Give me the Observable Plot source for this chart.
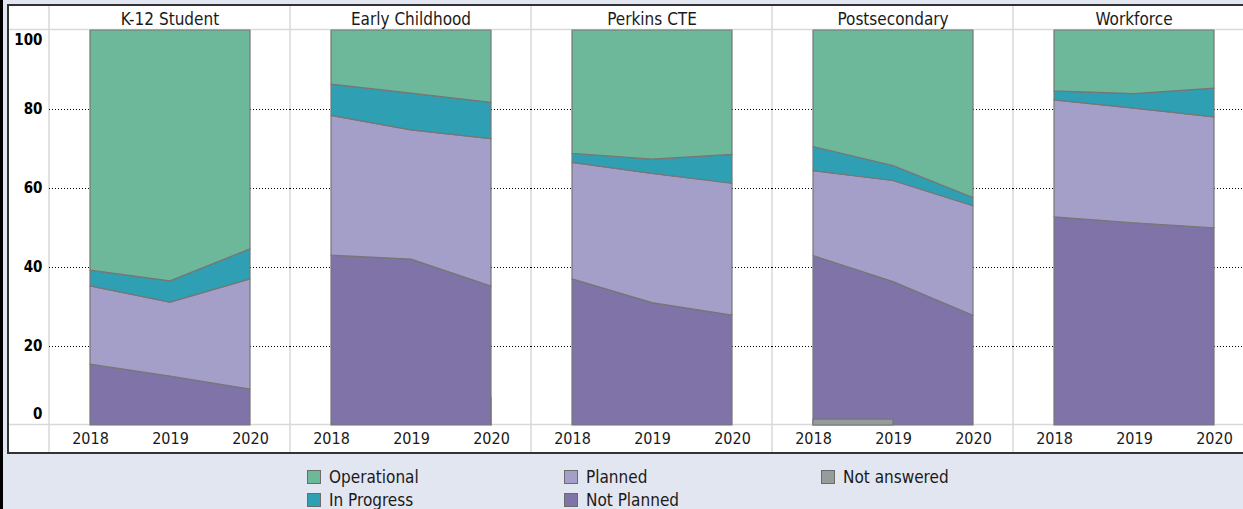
<!DOCTYPE html>
<html>
<head>
<meta charset="utf-8">
<script src="https://cdn.jsdelivr.net/npm/d3@7"></script>
<script src="https://cdn.jsdelivr.net/npm/@observablehq/plot@0.6"></script>
<style>
  html, body { margin: 0; padding: 0; }
  body { width: 1243px; height: 509px; overflow: hidden; background: #e2e6f1; position: relative;
         font-family: "DejaVu Sans Condensed", "DejaVu Sans", sans-serif; font-stretch: condensed; }
  #strip { position: absolute; left: 0; top: 0; width: 3px; height: 509px; background: #000; }
  #frame { position: absolute; left: 7px; top: 4px; width: 1260px; height: 446px;
           border: 2px solid #333; border-right: none; background: #fff; }
  #frame svg { display: block; }
  #legend { position: absolute; left: 307px; top: 465px; display: grid;
            grid-auto-flow: column; grid-template-rows: 23px 23px;
            grid-template-columns: 257px 257px 200px; font-size: 17px; color: #1a1a1a; }
  .item { display: flex; align-items: center; }
  .sw { width: 12px; height: 12px; border: 1px solid #6b6b6b; margin-right: 8px; box-sizing: content-box; }
</style>
</head>
<body>
<div id="strip"></div>
<div id="frame"></div>
<div id="legend"></div>
<script>
// ---- data ----
const facets = ["K-12 Student", "Early Childhood", "Perkins CTE", "Postsecondary", "Workforce"];
const years = [2018, 2019, 2020];
const yTicks = [0, 20, 40, 60, 80, 100];

// stack order (bottom -> top)
const seriesNames = ["Not answered", "Not Planned", "Planned", "In Progress", "Operational"];
const seriesColors = ["#959c9b", "#8073a8", "#a39fc8", "#2fa0b3", "#6db89a"];
const legendOrder = ["Operational", "In Progress", "Planned", "Not Planned", "Not answered"];

// values per facet (rows) and year (columns), in percent
const notAnswered = [[null, null, null], [null, null, 7.0], [null, null, null], [1.5, 1.5, null], [null, null, null]];
const notPlanned  = [[15.4, 12.4, 9.1], [43.0, 42.0, 28.2], [37.0, 31.0, 27.8], [41.4, 34.8, 27.8], [52.7, 51.2, 49.9]];
const planned     = [[19.8, 18.7, 27.9], [35.4, 32.7, 37.3], [29.5, 32.7, 33.4], [21.5, 25.6, 27.7], [29.6, 29.0, 28.1]];
const inProgress  = [[4.0, 5.4, 7.6], [7.9, 9.3, 9.2], [2.3, 3.6, 7.3], [6.1, 3.8, 2.1], [2.3, 3.7, 7.3]];
const operational = [[60.8, 63.5, 55.4], [13.7, 16.0, 18.3], [31.2, 32.7, 31.5], [29.5, 34.3, 42.4], [15.4, 16.1, 14.7]];

const seriesValues = [notAnswered, notPlanned, planned, inProgress, operational];

// ---- stacked table (Not Planned fills down to the baseline; Not answered drawn on top) ----
const stacked = [];
const bottomRows = [];
facets.forEach((facet, fi) => {
  const base = years.map(() => 0);
  seriesNames.forEach((s, si) => {
    years.forEach((year, yi) => {
      const v = seriesValues[si][fi][yi];
      let row;
      if (v == null) {
        row = {facet, year, series: s, y1: null, y2: null};
      } else {
        const y1 = base[yi], y2 = y1 + v;
        base[yi] = y2;
        row = {facet, year, series: s, y1: s === "Not Planned" ? 0 : y1, y2};
      }
      (s === "Not answered" ? bottomRows : stacked).push(row);
    });
  });
});
const table = stacked.concat(bottomRows);

const FONT = '"DejaVu Sans Condensed", "DejaVu Sans", sans-serif';
const axisStyle = {anchor: "left", label: null, tickSize: 0, tickPadding: 7, fontWeight: "bold", fontSize: 15, fill: "#000"};

const plot = Plot.plot({
  width: 1245,
  height: 446,
  marginLeft: 40,
  marginRight: 0,
  marginTop: 24,
  marginBottom: 27,
  style: {fontFamily: FONT, fontSize: "16px", color: "#1a1a1a", background: "#fff", fontStretch: "condensed"},
  fx: {domain: facets, padding: 0, axis: null, label: null},
  x: {type: "point", domain: years, padding: 0.5, label: null, tickSize: 0, tickPadding: 7, tickFormat: d => String(d)},
  y: {domain: [0, 100], axis: null, label: null},
  color: {domain: seriesNames, range: seriesColors},
  marks: [
    Plot.gridY(yTicks.filter(t => t > 0 && t < 100), {stroke: "#000", strokeOpacity: 1, strokeDasharray: "1,2", strokeWidth: 1}),
    Plot.areaY(table, {x: "year", y1: "y1", y2: "y2", fx: "facet", z: "series", fill: "series",
                       stroke: "#767676", strokeWidth: 1.2, fillOpacity: 1}),
    Plot.axisFx({anchor: "top", label: null, tickSize: 0, tickPadding: 6, fontSize: 17}),
    Plot.axisY(yTicks.filter(t => t > 0 && t < 100), axisStyle),
    Plot.axisY(yTicks.filter(t => t === 100), {...axisStyle, dy: 10}),
    Plot.axisY(yTicks.filter(t => t === 0), {...axisStyle, dy: -11})
  ]
});

// facet separators and frame lines using the plot's scales
const fx = plot.scale("fx");
const ys = plot.scale("y");
const svg = d3.select(plot);
const g = svg.insert("g", "g").attr("stroke", "#d9d9d9").attr("stroke-width", 1.5);
facets.forEach(f => {
  const x0 = fx.apply(f);
  g.append("line").attr("x1", x0).attr("x2", x0).attr("y1", 0).attr("y2", 446);
});
[0, 100].forEach(v => {
  const yy = Math.round(ys.apply(v)) - 0.5;
  g.append("line").attr("x1", 0).attr("x2", 1245).attr("y1", yy).attr("y2", yy);
});

document.getElementById("frame").appendChild(plot);

// legend
const legend = d3.select("#legend");
legendOrder.forEach(name => {
  const item = legend.append("div").attr("class", "item");
  item.append("div").attr("class", "sw").style("background", seriesColors[seriesNames.indexOf(name)]);
  item.append("span").text(name);
});
</script>
</body>
</html>
